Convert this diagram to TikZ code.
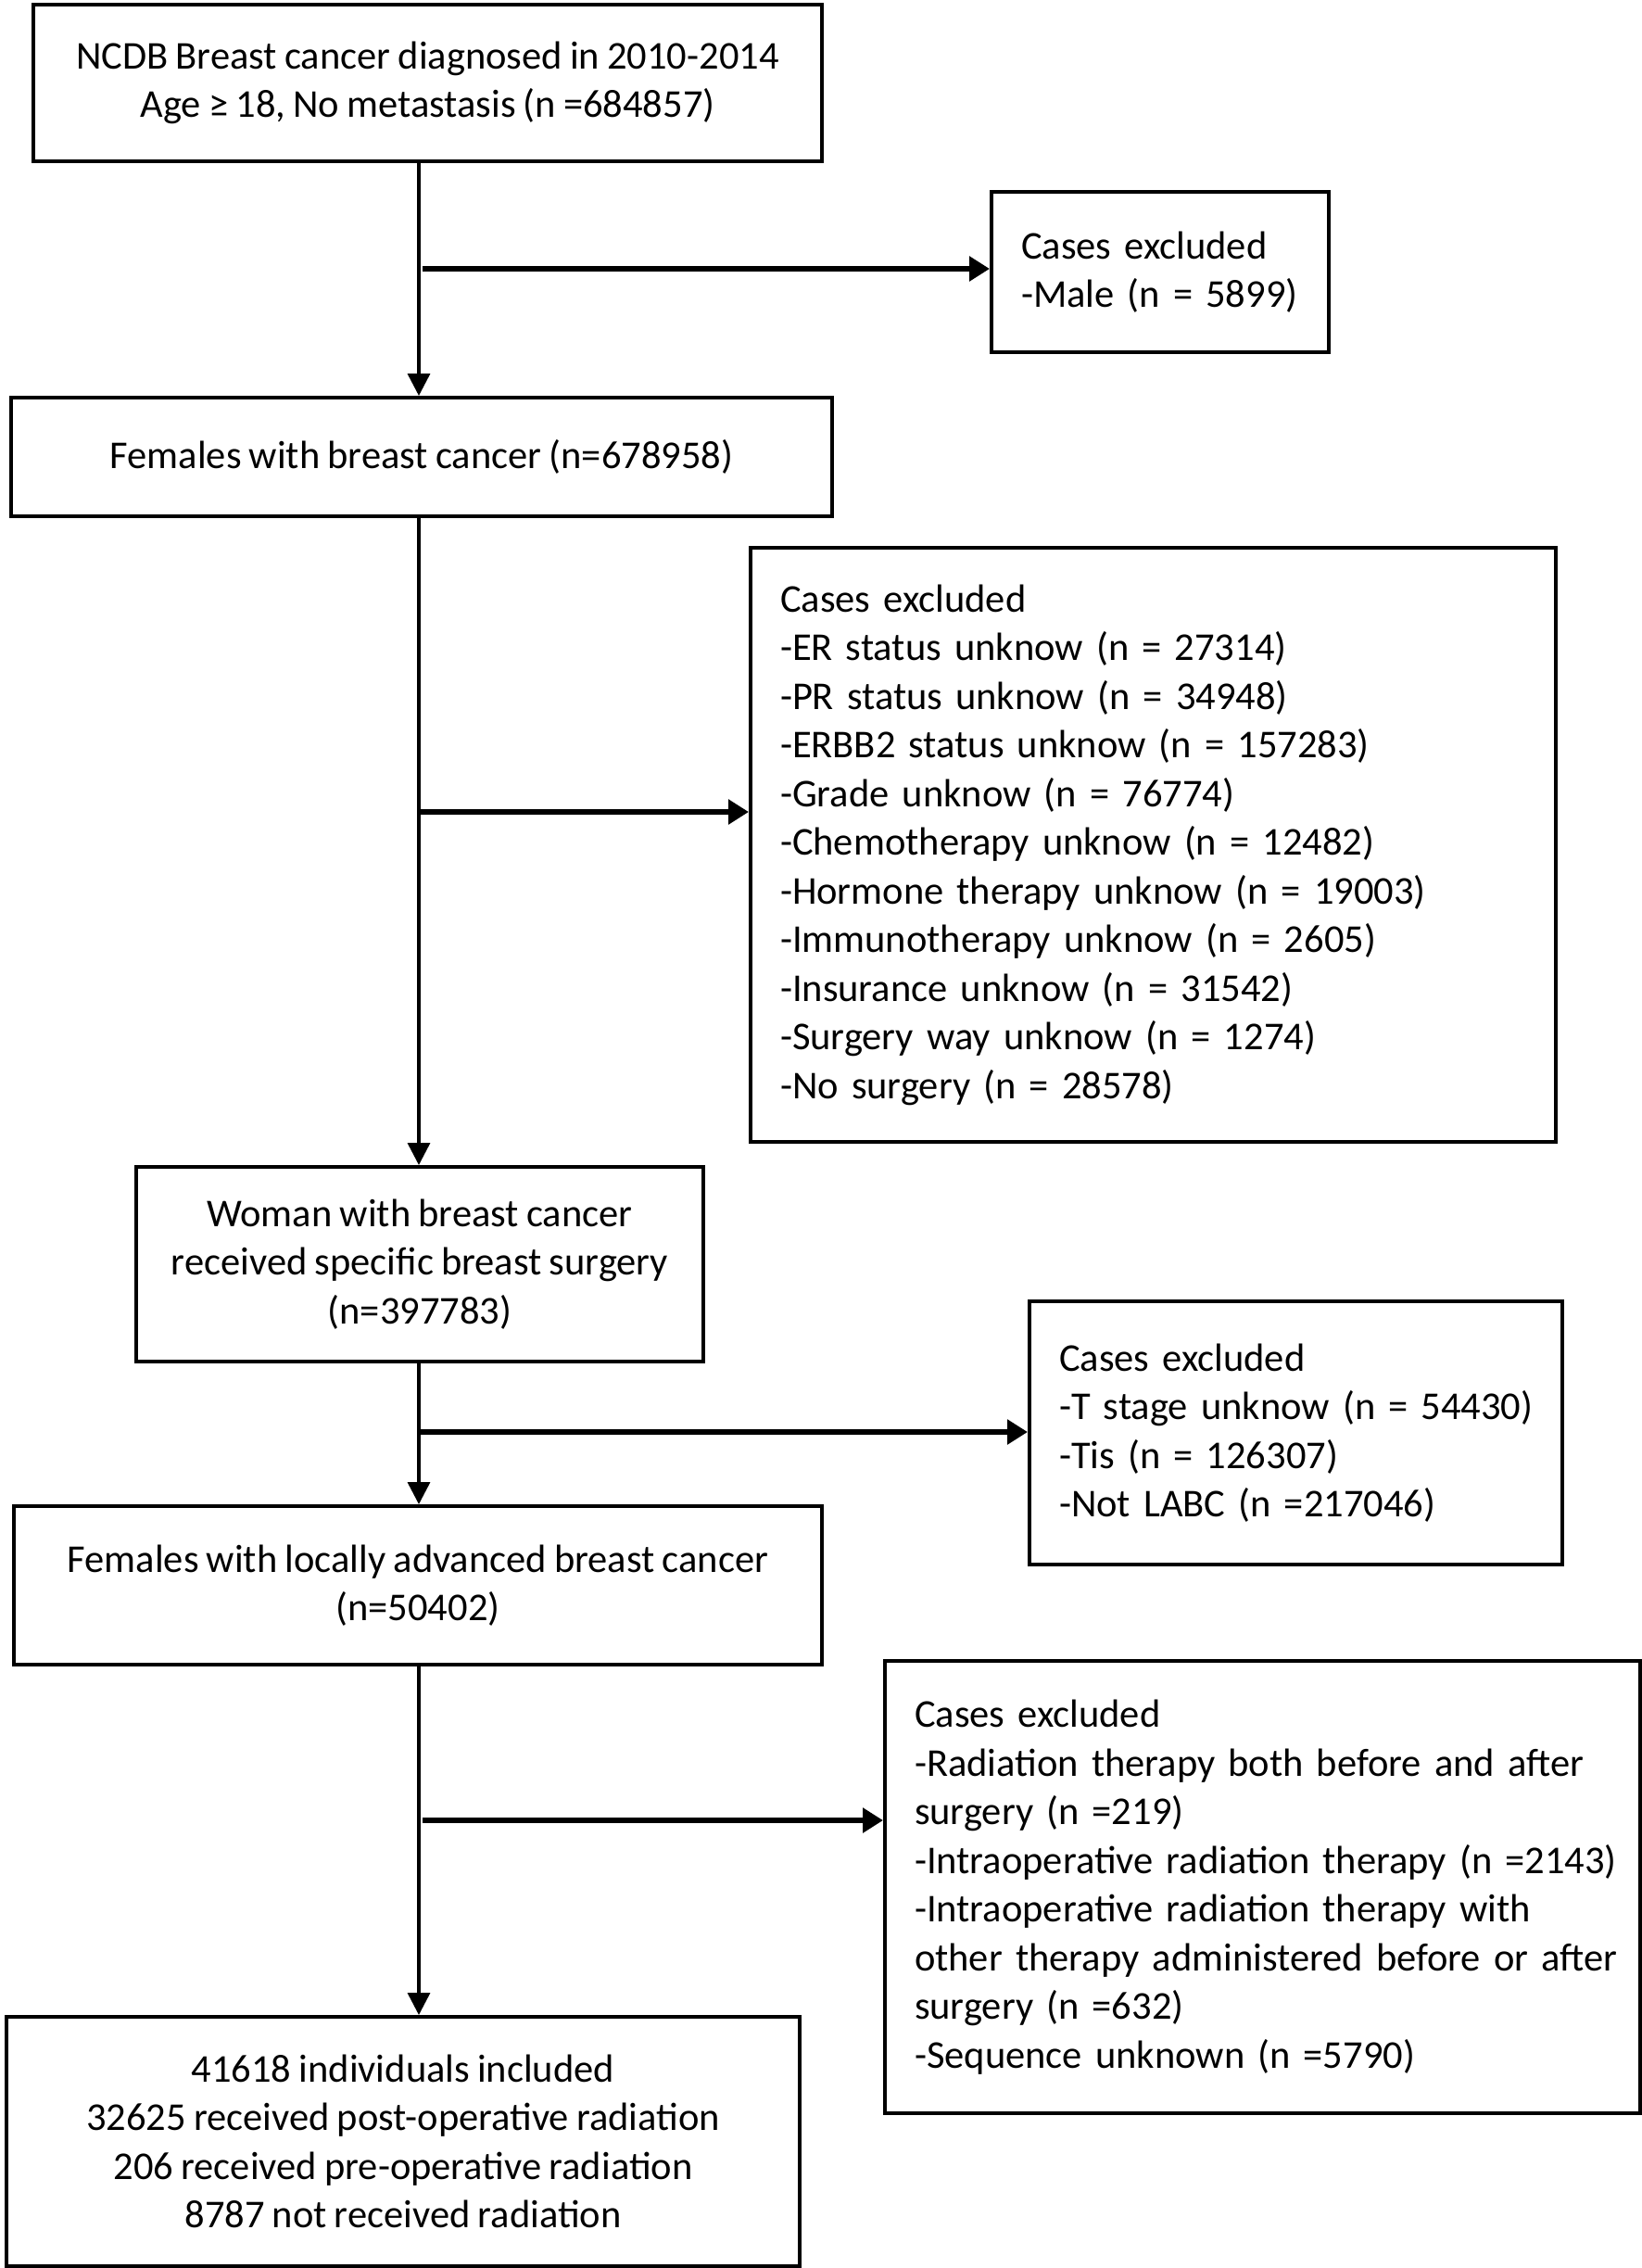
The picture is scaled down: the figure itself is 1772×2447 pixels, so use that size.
\documentclass[tikz,border=0pt]{standalone}
\usepackage{fontspec}
\setmainfont{Carlito}[WordSpace=0.85]
\usetikzlibrary{arrows.meta}
\begin{document}
\begin{tikzpicture}[x=1pt,y=-1pt,
  basebox/.style={draw=black, line width=4pt, inner sep=0pt, anchor=north west,
    font=\fontsize{42.5}{52.5}\selectfont},
  cbox/.style={basebox, align=center},
  xbox/.style={basebox, align=left, inner xsep=32pt, inner ysep=0pt},
  varrow/.style={draw=black, line width=3.5pt, -{Triangle[length=24pt,width=24pt]}},
  harrow/.style={draw=black, line width=6pt, -{Triangle[length=22pt,width=26pt]}}]
\fill[white] (0,0) rectangle (1772,2447);
\useasboundingbox (0,0) rectangle (1772,2447);

% main column
\node[cbox, minimum width=851pt, minimum height=169pt] (b1) at (34,3)
  {NCDB Breast cancer diagnosed in 2010-2014\\Age ≥ 18, No metastasis (n =684857)};
\node[cbox, minimum width=886pt, minimum height=128pt] (b2) at (10,427)
  {Females with breast cancer (n=678958)};
\node[cbox, minimum width=612pt, minimum height=210pt] (b3) at (145,1257)
  {Woman with breast cancer\\received specific breast surgery\\(n=397783)};
\node[cbox, minimum width=872pt, minimum height=171pt] (b4) at (13,1623)
  {Females with locally advanced breast cancer\\(n=50402)};
\node[cbox, minimum width=856pt, minimum height=269pt] (b5) at (5,2174)
  {41618 individuals included\\32625 received post-operative radiation\\206 received pre-operative radiation\\8787 not received radiation};

% exclusion boxes
\node[xbox, text width=300pt, minimum height=173pt] (m1) at (1068,205)
  {Cases excluded\\\mbox{-Male (n = 5899)}};
\node[xbox, text width=805pt, minimum height=641pt] (e2) at (808,589)
  {Cases excluded\\-ER status unknow (n = 27314)\\-PR status unknow (n = 34948)\\-ERBB2 status unknow (n = 157283)\\-Grade unknow (n = 76774)\\-Chemotherapy unknow (n = 12482)\\-Hormone therapy unknow (n = 19003)\\-Immunotherapy unknow (n = 2605)\\-Insurance unknow (n = 31542)\\-Surgery way unknow (n = 1274)\\-No surgery (n = 28578)};
\node[xbox, text width=511pt, minimum height=284pt] (e3) at (1109,1402)
  {Cases excluded\\\mbox{-T stage unknow (n = 54430)}\\\mbox{-Tis (n = 126307)}\\\mbox{-Not LABC (n =217046)}};
\node[xbox, text width=751pt, minimum height=488pt] (e4) at (953,1790)
  {Cases excluded\\\mbox{-Radiation therapy both before and after}\\surgery (n =219)\\\mbox{-Intraoperative radiation therapy (n =2143)}\\\mbox{-Intraoperative radiation therapy with}\\\mbox{other therapy administered before or after}\\surgery (n =632)\\-Sequence unknown (n =5790)};

% trunk
\coordinate (t) at (452,0);
\draw[varrow] (b1.south -| t) -- (b2.north -| t);
\draw[varrow] (b2.south -| t) -- (b3.north -| t);
\draw[varrow] (b3.south -| t) -- (b4.north -| t);
\draw[varrow] (b4.south -| t) -- (b5.north -| t);

% branches
\coordinate (j1) at (456,290);
\coordinate (j2) at (454,876);
\coordinate (j3) at (454,1545);
\coordinate (j4) at (456,1964);
\draw[harrow] (j1) -- (j1 -| m1.west);
\draw[harrow] (j2) -- (j2 -| e2.west);
\draw[harrow] (j3) -- (j3 -| e3.west);
\draw[harrow] (j4) -- (j4 -| e4.west);
\end{tikzpicture}
\end{document}
